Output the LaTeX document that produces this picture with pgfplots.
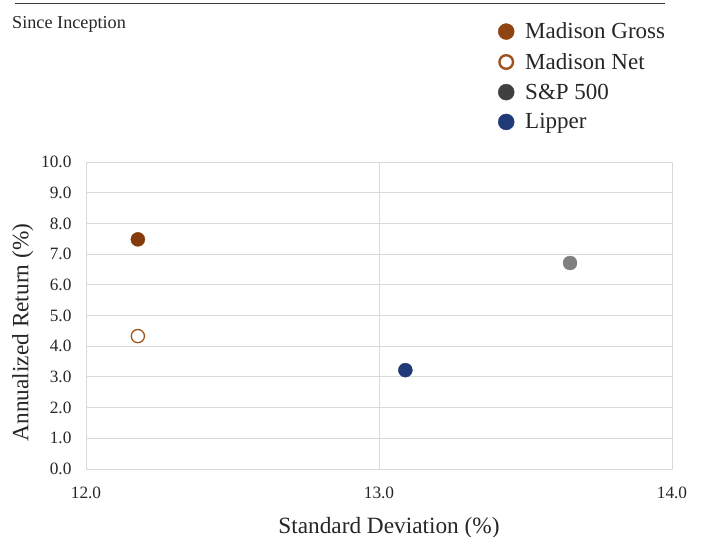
\documentclass[border=0pt]{standalone}
\usepackage{pgfplots}
\pgfplotsset{compat=1.18}
\usepackage{fontspec}
\setmainfont{Liberation Serif}
\definecolor{gross}{HTML}{843C0C}
\definecolor{grossleg}{HTML}{8E4511}
\definecolor{netc}{HTML}{A0521E}
\definecolor{spc}{HTML}{7F7F7F}
\definecolor{spleg}{HTML}{404040}
\definecolor{lip}{HTML}{203A78}
\definecolor{gridc}{HTML}{D9D9D9}
\definecolor{txt}{HTML}{262626}
\begin{document}
\begin{tikzpicture}[x=1pt,y=1pt]
\path[use as bounding box] (0,0) rectangle (705,-537);
\draw[color=txt!90!white, line width=1.6pt] (15,-3.5) -- (665,-3.5);
\node[anchor=base west, font=\fontsize{18.2}{20}\selectfont, text=txt, inner sep=0pt] at (12,-28.5) {Since Inception};
\begin{axis}[
  at={(86pt,-469pt)}, anchor=south west,
  scale only axis, width=586pt, height=307pt,
  xmin=12, xmax=14, ymin=0, ymax=10,
  xtick={12,13,14}, ytick={0,1,...,10},
  /pgf/number format/fixed, /pgf/number format/fixed zerofill, /pgf/number format/precision=1,
  /pgf/number format/assume math mode=true,
  tick label style={font=\fontsize{17.3}{18}\selectfont, text=txt},
  xticklabel style={yshift=-14pt},
  yticklabel style={xshift=-11pt},
  major tick length=0pt,
  grid=major, major grid style={gridc, line width=0.9pt},
  axis line style={gridc, line width=0.9pt},
  xlabel={Standard Deviation (\%)}, ylabel={Annualized Return (\%)},
  label style={font=\fontsize{23.3}{26}\selectfont, text=txt},
  xlabel style={yshift=-12pt, xshift=10pt},
  ylabel style={yshift=1pt, xshift=-17pt},
  legend style={at={(0.698,1.467)}, anchor=north west, draw=none, fill=none,
    font=\fontsize{23}{26}\selectfont, text=txt, row sep=9pt,
    /tikz/every odd column/.append style={column sep=9pt}},
  legend cell align=left,
]
\addlegendimage{only marks, mark=*, mark size=8pt, color=grossleg}
\addlegendentry{Madison Gross}
\addlegendimage{only marks, mark=o, mark size=6.8pt, color=netc, line width=2.4pt}
\addlegendentry{Madison Net}
\addlegendimage{only marks, mark=*, mark size=8pt, color=spleg}
\addlegendentry{S\&P 500}
\addlegendimage{only marks, mark=*, mark size=8pt, color=lip}
\addlegendentry{Lipper}
\addplot[only marks, mark=*, mark size=7pt, color=gross, forget plot] coordinates {(12.177,7.48)};
\addplot[only marks, mark=*, mark size=6.6pt, draw=netc, fill=white, line width=1.3pt, forget plot] coordinates {(12.177,4.33)};
\addplot[only marks, mark=*, mark size=7pt, color=spc, forget plot] coordinates {(13.652,6.71)};
\addplot[only marks, mark=*, mark size=7pt, color=lip, forget plot] coordinates {(13.090,3.22)};
\end{axis}
\end{tikzpicture}
\end{document}
